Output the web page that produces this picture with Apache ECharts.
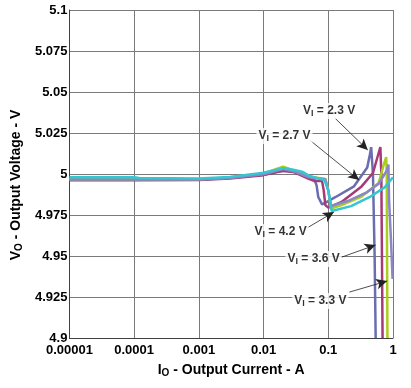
<!DOCTYPE html>
<html><head><meta charset="utf-8">
<script src="https://cdn.jsdelivr.net/npm/echarts@6/dist/echarts.min.js"></script>
<style>html,body{margin:0;padding:0;background:#fff}#c{width:411px;height:388px}</style>
</head><body><div id="c"></div>
<script>
// x tick labels (log decades)
const xTicks = ['0.00001','0.0001','0.001','0.01','0.1','1'];
const yTicks = ['4.9','4.925','4.95','4.975','5','5.025','5.05','5.075','5.1'];

// Series: [Io (A), Vo (V)]
const vi23 = [[0.00001,4.9965],[0.0001,4.9965],[0.001,4.9966],[0.003,4.9975],[0.01,4.9995],[0.015,5.0012],[0.02,5.002],[0.03,5.0015],[0.045,4.999],[0.06,4.9975],[0.066,4.993],[0.07,4.986],[0.08,4.9815],[0.1,4.9835],[0.13,4.986],[0.25,4.9925],[0.4,5.004],[0.44,5.012],[0.46,5.0164],[0.49,5.0],[0.52,4.95],[0.54,4.9]];
const vi27 = [[0.00001,4.9962],[0.0001,4.9962],[0.001,4.9963],[0.003,4.9972],[0.01,4.9993],[0.02,5.002],[0.03,5.001],[0.05,4.997],[0.06,4.9958],[0.08,4.9958],[0.085,4.99],[0.09,4.981],[0.1,4.9795],[0.16,4.983],[0.32,4.992],[0.49,5.0006],[0.6,5.0128],[0.638,5.0164],[0.66,5.0],[0.675,4.95],[0.69,4.9]];
const vi33 = [[0.00001,4.9968],[0.0001,4.9968],[0.001,4.9968],[0.003,4.9978],[0.01,5.0003],[0.02,5.0045],[0.03,5.002],[0.05,4.9985],[0.09,4.997],[0.1,4.99],[0.11,4.979],[0.16,4.981],[0.32,4.986],[0.6,4.9945],[0.74,5.0073],[0.785,5.0103],[0.8,5.0],[0.81,4.95],[0.82,4.9]];
const vi36 = [[0.00001,4.9966],[0.0001,4.9966],[0.001,4.9967],[0.003,4.9976],[0.01,4.9998],[0.02,5.003],[0.03,5.0015],[0.05,4.998],[0.09,4.9968],[0.1,4.99],[0.11,4.9805],[0.2,4.9835],[0.4,4.989],[0.6,4.994],[0.8,5.002],[0.85,5.0058],[0.87,4.984],[0.93,4.96],[0.985,4.936]];
const vi42 = [[0.00001,4.998],[0.0001,4.998],[0.00012,4.9975],[0.001,4.9972],[0.003,4.9982],[0.01,5.0008],[0.02,5.0036],[0.03,5.0025],[0.0405,5.0012],[0.05,4.999],[0.087,4.9963],[0.1,4.99],[0.113,4.9774],[0.225,4.9804],[0.44,4.986],[0.75,4.992],[1,4.998]];

const seriesNames = ['2.3','2.7','3.3','3.6','4.2'];
const seriesData = [vi23, vi27, vi33, vi36, vi42];
const seriesColors = ['#6a6db0','#a63a78','#a8cf1c','#8b86c6','#35c6d2'];

// Annotations: label anchor, arrow start, arrow tip (data coords)
const annText = ['2.3','2.7','4.2','3.6','3.3'];
const annLabel = [[0.103,5.0384],[0.02104,5.0231],[0.01832,4.9646],[0.0592,4.9481],[0.0753,4.9225]];
const annStart = [[0.1265,5.0341],[0.0516,5.0207],[0.0466,4.967],[0.161,4.9493],[0.212,4.928]];
const annTip = [[0.408,5.0146],[0.299,4.9963],[0.1222,4.9768],[0.538,4.9567],[0.813,4.9347]];

const FONT = '"Liberation Sans", Arial, sans-serif';
const chart = echarts.init(document.getElementById('c'), null, {renderer:'canvas'});
const richSub = {
  v:{fontFamily:FONT,fontWeight:'bold',fontSize:12,color:'#000',lineHeight:14},
  s:{fontFamily:FONT,fontWeight:'bold',fontSize:9,color:'#000',lineHeight:9,verticalAlign:'bottom',padding:[5,0,0,0]}
};
const richAxis = {
  v:{fontFamily:FONT,fontWeight:'bold',fontSize:14,color:'#000',lineHeight:16},
  s:{fontFamily:FONT,fontWeight:'bold',fontSize:10,color:'#000',lineHeight:10,verticalAlign:'bottom',padding:[6,0,0,0]},
  g:{width:22,fontSize:14,lineHeight:16}
};

const series = seriesData.map((d,i)=>({
  type:'line', name:seriesNames[i], data:d, showSymbol:false, symbol:'none',
  lineStyle:{color:seriesColors[i], width:2.5}, itemStyle:{color:seriesColors[i]},
  z:2+i, animation:false, silent:true
}));

series.push({
  type:'scatter', data:annLabel.map((p,i)=>[p[0],p[1],annText[i]]), symbolSize:0, z:10, animation:false, silent:true,
  label:{show:true, position:'inside', formatter:p=>'{v|V}{s|I}{v| = '+p.data[2]+' V}', rich:richSub,
    backgroundColor:'#fff', padding:[1,2,1,2]},
  markLine:{silent:true, animation:false, symbol:['none','arrow'], symbolSize:[8,11],
    lineStyle:{color:'#222', width:0.8, type:'solid'}, label:{show:false},
    data: annStart.map((s,i)=>[{coord:s},{coord:annTip[i]}])}
});

chart.setOption({
  animation:false,
  grid:{left:59,right:18,top:10,bottom:50,show:false},
  xAxis:{type:'log', min:0.00001, max:1, logBase:10,
    name:'{v|I}{s|O}{v| - Output Current - A}', nameLocation:'middle', nameGap:22,
    nameTextStyle:{rich:richAxis},
    axisLine:{show:true,lineStyle:{color:'#404040',width:1}}, axisTick:{show:false},
    axisLabel:{fontFamily:FONT,fontWeight:'bold',fontSize:13,color:'#000',margin:6,
      formatter:(v)=>{const e=Math.round(Math.log10(v)); return xTicks[e+5];}},
    splitLine:{show:true,lineStyle:{color:'#7a7a7a',width:1}}, minorTick:{show:false}},
  yAxis:{type:'value', min:4.9, max:5.1, interval:0.025,
    name:'{v|V}{s|O}{v| - Output Voltage - V}{g| }', nameLocation:'middle', nameGap:44, nameRotate:90,
    nameTextStyle:{rich:richAxis},
    axisLine:{show:true,lineStyle:{color:'#404040',width:1}}, axisTick:{show:false},
    axisLabel:{fontFamily:FONT,fontWeight:'bold',fontSize:13,color:'#000',margin:2,
      formatter:(v)=>{const i=Math.round((v-4.9)/0.025); return yTicks[i];}},
    splitLine:{show:true,lineStyle:{color:'#7a7a7a',width:1}}},
  series:series
});
</script></body></html>
